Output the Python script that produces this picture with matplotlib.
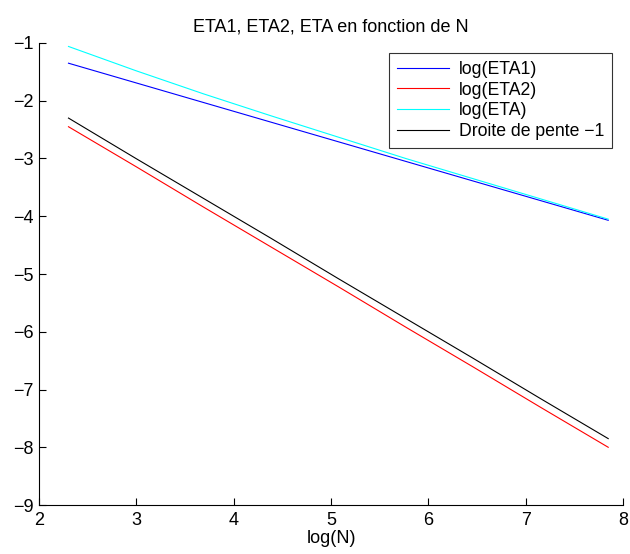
import matplotlib
matplotlib.use('Agg')
import matplotlib.pyplot as plt

plt.rcParams['font.family'] = ['Liberation Sans', 'DejaVu Sans']

# log(N) pour N = 10, 20, 40, ..., 2560
logN = [2.303, 2.996, 3.689, 4.382, 5.075, 5.768, 6.461, 7.155, 7.848]
log_eta1 = [-1.35, -1.69, -2.03, -2.37, -2.71, -3.05, -3.39, -3.73, -4.07]
log_eta2 = [-2.45, -3.14, -3.84, -4.53, -5.22, -5.92, -6.61, -7.31, -8.00]
log_eta = [-1.06, -1.48, -1.88, -2.26, -2.63, -3.00, -3.35, -3.70, -4.05]
droite = [-2.30, -3.00, -3.69, -4.38, -5.08, -5.77, -6.46, -7.16, -7.85]

fig = plt.figure(figsize=(6.3, 5.54), dpi=100)
ax = fig.add_axes([0.0619, 0.0884, 0.927, 0.834])

ax.plot(logN, log_eta1, color='#0000ff', lw=0.8, label='log(ETA1)')
ax.plot(logN, log_eta2, color='#ff0000', lw=0.8, label='log(ETA2)')
ax.plot(logN, log_eta, color='#00ffff', lw=0.8, label='log(ETA)')
ax.plot(logN, droite, color='#000000', lw=0.8, label='Droite de pente \u22121')

ax.set_xlim(2, 8)
ax.set_ylim(-9, -1)
ax.set_xticks(range(2, 9))
ax.set_yticks(range(-9, 0))
ax.set_yticklabels(['\u2212%d' % abs(v) for v in range(-9, 0)])
ax.spines['top'].set_visible(False)
ax.spines['right'].set_visible(False)
ax.tick_params(direction='in', length=5, labelsize=13)
ax.tick_params(axis='x', pad=5)
ax.tick_params(axis='y', pad=4)
ax.set_xlabel('log(N)', fontsize=13, labelpad=1)
ax.set_title('ETA1, ETA2, ETA en fonction de N', fontsize=13, pad=8)

leg = ax.legend(loc='upper right', fontsize=12.7, frameon=True, fancybox=False,
                edgecolor='black', handlelength=2.95, handletextpad=0.55,
                labelspacing=0.2, borderpad=0.45, borderaxespad=0,
                bbox_to_anchor=(0.981, 0.978))
leg.get_frame().set_linewidth(0.8)

fig.savefig('out.png', dpi=100)
